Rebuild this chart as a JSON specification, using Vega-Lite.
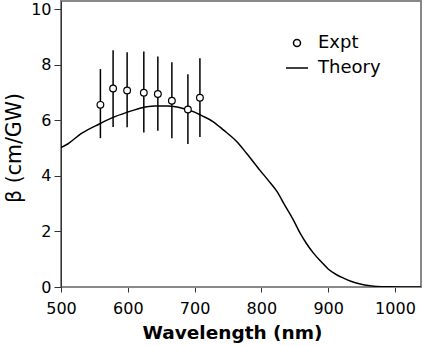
{
  "$schema": "https://vega.github.io/schema/vega-lite/v6.json",
  "width": 360,
  "height": 286,
  "autosize": "none",
  "padding": {"left": 61, "top": 1, "right": 2, "bottom": 59},
  "background": "white",
  "config": {
    "font": "DejaVu Sans",
    "view": {"stroke": "#888888", "strokeWidth": 2},
    "axis": {
      "grid": false,
      "labelFont": "DejaVu Sans",
      "titleFont": "DejaVu Sans",
      "labelFontSize": 16,
      "labelColor": "#000000",
      "titleColor": "#000000",
      "tickColor": "#333333",
      "tickWidth": 1,
      "domainWidth": 1
    },
    "legend": {
      "labelFont": "DejaVu Sans",
      "labelFontSize": 18,
      "labelColor": "#000000"
    }
  },
  "datasets": {
    "theory": [
      {"wl": 500, "beta": 5.02},
      {"wl": 510, "beta": 5.15},
      {"wl": 530, "beta": 5.52},
      {"wl": 558, "beta": 5.88},
      {"wl": 578, "beta": 6.11},
      {"wl": 600, "beta": 6.30},
      {"wl": 620, "beta": 6.45},
      {"wl": 640, "beta": 6.52},
      {"wl": 660, "beta": 6.52},
      {"wl": 680, "beta": 6.45},
      {"wl": 700, "beta": 6.30},
      {"wl": 710, "beta": 6.18},
      {"wl": 728, "beta": 5.95},
      {"wl": 743, "beta": 5.66},
      {"wl": 763, "beta": 5.24},
      {"wl": 778, "beta": 4.81},
      {"wl": 798, "beta": 4.20},
      {"wl": 810, "beta": 3.85},
      {"wl": 823, "beta": 3.45},
      {"wl": 835, "beta": 2.95},
      {"wl": 848, "beta": 2.41},
      {"wl": 858, "beta": 1.94},
      {"wl": 868, "beta": 1.55},
      {"wl": 878, "beta": 1.22},
      {"wl": 890, "beta": 0.90},
      {"wl": 900, "beta": 0.65},
      {"wl": 912, "beta": 0.45},
      {"wl": 923, "beta": 0.32},
      {"wl": 935, "beta": 0.20},
      {"wl": 948, "beta": 0.11},
      {"wl": 960, "beta": 0.05},
      {"wl": 973, "beta": 0.02},
      {"wl": 990, "beta": 0.005},
      {"wl": 1010, "beta": 0.0},
      {"wl": 1039, "beta": 0.0}
    ],
    "expt": [
      {"series": "Expt", "wl": 559, "beta": 6.56, "lo": 5.36, "hi": 7.85},
      {"series": "Expt", "wl": 578, "beta": 7.15, "lo": 5.76, "hi": 8.53},
      {"series": "Expt", "wl": 599, "beta": 7.08, "lo": 5.75, "hi": 8.45},
      {"series": "Expt", "wl": 624, "beta": 7.00, "lo": 5.56, "hi": 8.48},
      {"series": "Expt", "wl": 645, "beta": 6.95, "lo": 5.63, "hi": 8.30},
      {"series": "Expt", "wl": 666, "beta": 6.71, "lo": 5.36, "hi": 8.09},
      {"series": "Expt", "wl": 690, "beta": 6.39, "lo": 5.15, "hi": 7.66},
      {"series": "Expt", "wl": 708, "beta": 6.82, "lo": 5.40, "hi": 8.24}
    ]
  },
  "layer": [
    {
      "data": {"name": "theory"},
      "mark": {"type": "line", "color": "black", "strokeWidth": 1.5, "interpolate": "monotone", "clip": true},
      "encoding": {
        "x": {
          "field": "wl", "type": "quantitative",
          "scale": {"domain": [500, 1039], "nice": false, "zero": false},
          "axis": {
            "title": "Wavelength (nm)",
            "titleFontSize": 18.5,
            "titleFontWeight": "bold",
            "titleX": 171,
            "titleY": 51,
            "titleAlign": "center",
            "titleBaseline": "alphabetic",
            "values": [500, 550, 600, 650, 700, 750, 800, 850, 900, 950, 1000],
            "format": "d",
            "labelExpr": "datum.value % 100 === 0 ? format(datum.value, 'd') : ''",
            "tickSize": {"condition": {"test": "datum.value % 100 === 0", "value": 5}, "value": 3},
            "labelPadding": 8,
            "domainColor": "#888888",
            "labelFlush": false,
            "labelOverlap": false
          }
        },
        "y": {
          "field": "beta", "type": "quantitative",
          "scale": {"domain": [0, 10.3], "nice": false},
          "axis": {
            "title": "β (cm/GW)",
            "titleFontSize": 20.5,
            "titleFontWeight": "normal",
            "titleX": -40.5,
            "titleY": 146.5,
            "titleAngle": 270,
            "titleAlign": "center",
            "titleBaseline": "alphabetic",
            "values": [0, 0.5, 1, 1.5, 2, 2.5, 3, 3.5, 4, 4.5, 5, 5.5, 6, 6.5, 7, 7.5, 8, 8.5, 9, 9.5, 10],
            "labelExpr": "datum.value % 2 === 0 ? datum.label : ''",
            "tickSize": {"condition": {"test": "datum.value % 2 === 0", "value": 7}, "value": 3},
            "labelPadding": 3,
            "domainColor": "#333333",
            "labelFlush": false,
            "labelOverlap": false
          }
        }
      }
    },
    {
      "data": {"name": "expt"},
      "mark": {"type": "rule", "color": "black", "strokeWidth": 1.5},
      "encoding": {
        "x": {"field": "wl", "type": "quantitative"},
        "y": {"field": "lo", "type": "quantitative"},
        "y2": {"field": "hi"}
      }
    },
    {
      "data": {"name": "expt"},
      "mark": {"type": "point", "filled": true, "fill": "white", "stroke": "black", "strokeWidth": 1.2, "size": 45, "opacity": 1},
      "encoding": {
        "x": {"field": "wl", "type": "quantitative"},
        "y": {"field": "beta", "type": "quantitative"},
        "shape": {
          "field": "series", "type": "nominal",
          "scale": {"domain": ["Expt", "Theory"], "range": ["circle", "M-3.15,0L3.15,0"]},
          "legend": {
            "title": null,
            "orient": "none",
            "legendX": 227,
            "legendY": 33,
            "symbolSize": 49,
            "labelOffset": 12,
            "rowPadding": 7,
            "encode": {
              "symbols": {
                "update": {
                  "fill": {"value": "white"},
                  "stroke": {"value": "black"},
                  "strokeWidth": {"value": 1.3},
                  "opacity": {"value": 1},
                  "fillOpacity": {"value": 1},
                  "strokeOpacity": {"value": 1}
                }
              }
            }
          }
        }
      }
    }
  ]
}
